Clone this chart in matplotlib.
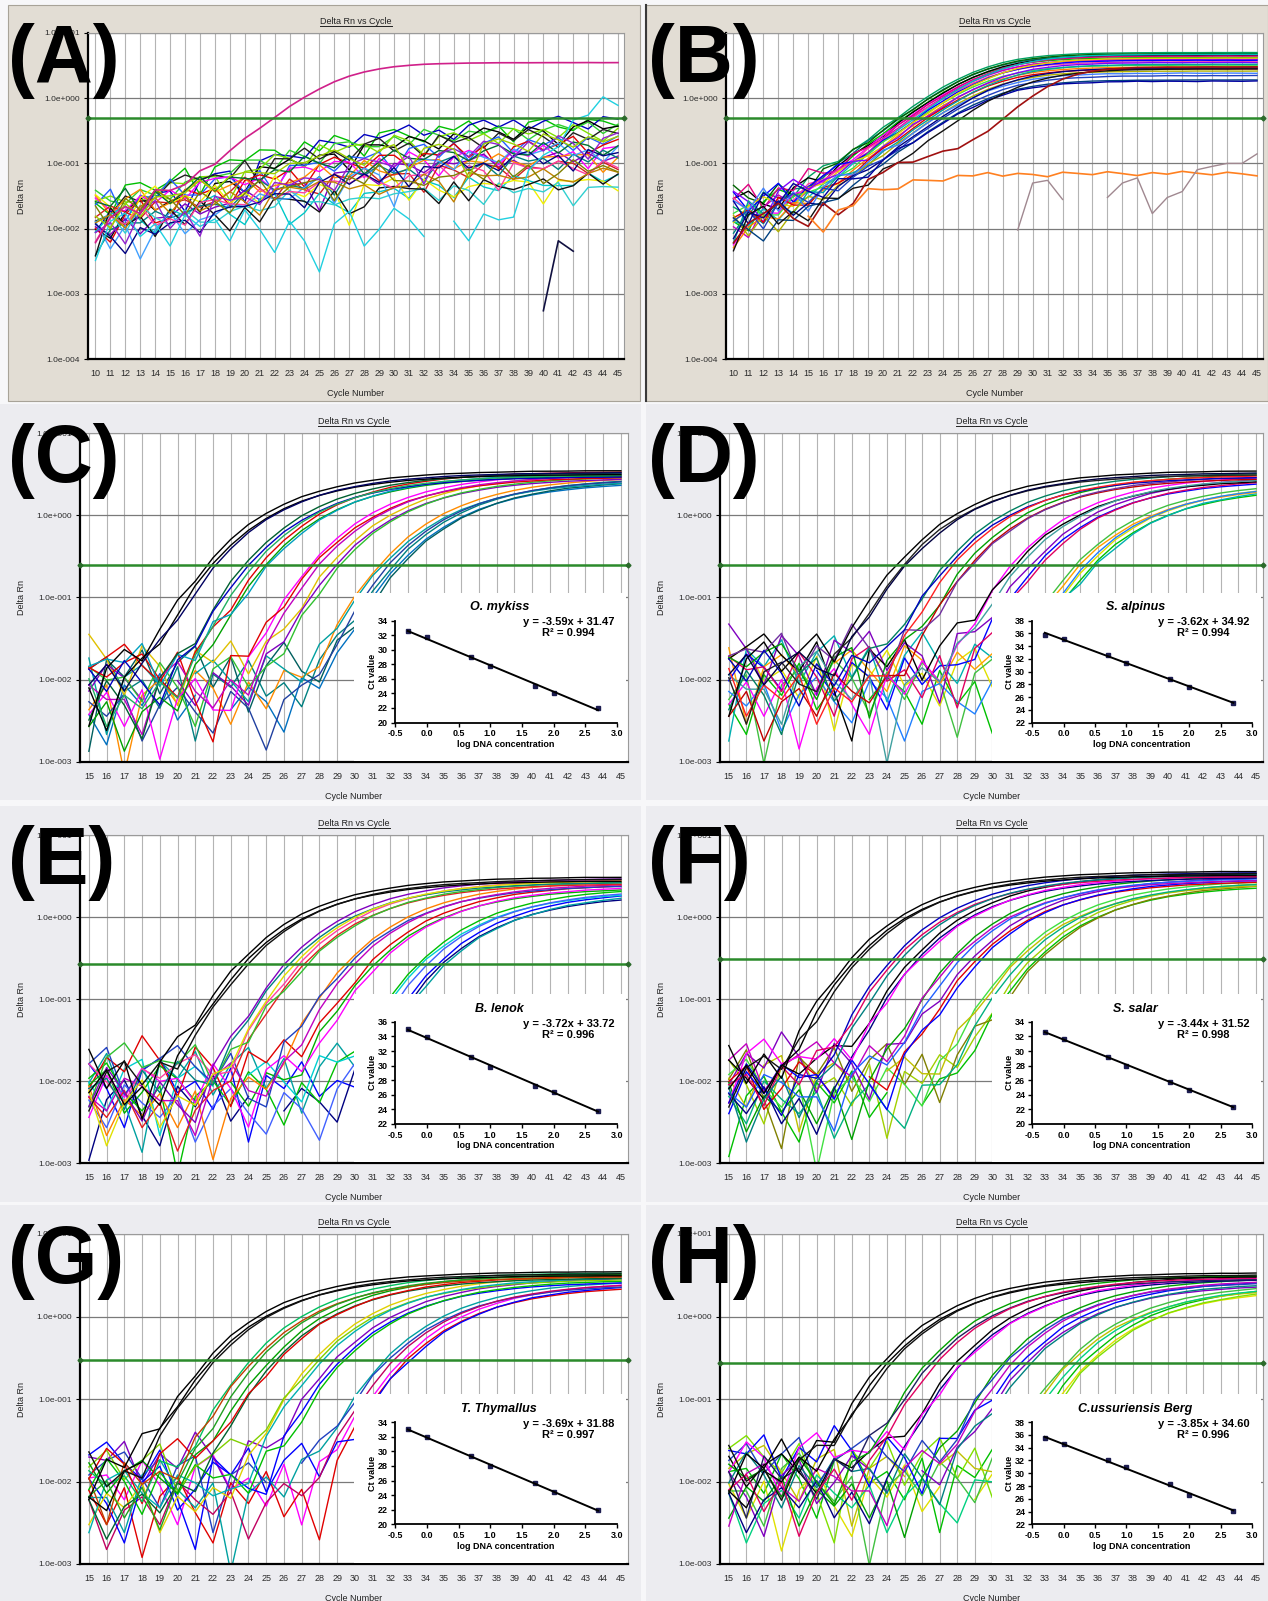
import numpy as np
import matplotlib.pyplot as plt
from matplotlib.patches import Rectangle
from matplotlib.lines import Line2D
from matplotlib.ticker import NullLocator

plt.rcParams['font.family'] = ['Liberation Sans', 'DejaVu Sans']

W, H = 1268, 1601

# ---------------- data ----------------
CYCLES_AB = np.arange(10, 46)
CYCLES_CH = np.arange(15, 46)

# baseline jitter, in units of a well's baseline level, one value per cycle 10..45
NOISE = [
    [1.2, 0.6, 1.8, 0.9, 0.3, 1.5,  2.1, 0.8, 1.1, 0.5, 1.6, 0.2,
     1.3, 0.9, 1.9, 0.7, 1.0, 0.4,  1.4, 2.0, 0.6, 1.1, 0.3, 1.7,
     0.9, 1.2, 0.5, 1.5, 0.8, 1.9,  1.0, 0.4, 1.3, 0.7, 1.6, 1.1],
    [0.5, 1.4, 0.2, 1.1, 1.9, 0.7,  0.3, 1.6, 0.9, 2.2, 0.6, 1.2,
     -0.3, 0.8, 1.5, 1.0, 0.4, 1.8,  0.7, 1.3, 0.2, 1.1, 1.7, 0.6,
     1.4, 0.3, 1.0, 1.9, 0.5, 1.2,  0.8, 1.6, 0.4, 1.1, 0.7, 1.3],
    [2.0, 1.1, 0.7, 1.6, 0.4, 0.1,  1.3, 0.8, 1.7, 0.5, 1.2, 1.9,
     0.6, 1.4, 0.3, 1.1, 2.1, 0.9,  0.5, 1.5, 1.0, 0.4, 1.2, 0.8,
     1.8, 0.6, 1.3, 0.2, 1.0, 1.6,  0.7, 1.2, 1.9, 0.5, 1.0, 1.4],
    [0.8, 0.3, 1.5, 2.3, 1.0, 0.6,  1.2, 0.1, 0.9, 1.4, 0.7, 1.8,
     1.1, 0.4, 1.3, 0.6, 1.7, 1.0,  0.2, 1.2, 1.6, 0.8, 0.5, 1.4,
     1.0, 1.9, 0.7, 1.1, 0.3, 1.3,  1.7, 0.9, 0.6, 1.5, 1.2, 0.8],
    [1.5, 1.9, 0.9, 0.4, 1.3, 1.7,  0.2, 1.0, 1.4, 0.8, -0.2, 1.1,
     1.6, 0.9, 0.5, 1.8, 1.2, 0.6,  1.5, 0.9, 1.3, 1.9, 0.7, 1.0,
     0.4, 1.2, 1.6, 0.8, 1.4, 0.6,  1.1, 1.5, 0.9, 0.5, 1.3, 1.0],
    [0.3, 0.9, 1.3, 0.6, 2.0, 1.2,  0.8, 1.5, 0.4, 1.1, 1.8, 0.9,
     0.5, 1.6, 1.0, 0.3, 1.2, 1.5,  0.9, 0.6, 1.4, 0.7, 1.9, 1.1,
     0.5, 1.3, 0.9, 1.6, 1.2, 0.4,  1.0, 1.4, 0.8, 1.7, 0.6, 1.2],
    [1.0, 1.7, 0.5, 1.2, 0.8, 2.2,  1.1, 0.4, 1.6, 0.9, 0.3, 1.4,
     1.0, 1.8, 0.6, 1.3, 0.9, 0.2,  1.5, 1.1, 0.7, 1.6, 1.0, 0.4,
     1.3, 0.8, 1.7, 1.1, 0.6, 1.4,  0.9, 0.3, 1.2, 1.8, 0.9, 1.1],
    [0.6, 0.2, 1.1, 1.7, 0.5, 0.9,  1.9, 1.3, 0.7, -0.1, 1.2, 0.6,
     1.5, 1.0, 0.4, 1.7, 0.8, 1.3,  1.1, 0.5, 1.8, 0.9, 0.3, 1.2,
     1.6, 0.7, 1.1, 0.5, 1.5, 1.0,  1.3, 0.6, 1.8, 0.9, 0.4, 1.2],
]
BASE_SCALE = [1.0, 0.6, 1.5, 0.8, 1.2, 0.5, 1.8, 0.9]

# (A) one positive well, the rest drift without amplifying
A_THRESHOLD = 0.5
A_POS_CT = 22.0
A_POS_PLATEAU = 3.5
A_POS_COLOR = '#d0208a'
A_WEAK_P = [0.45, 0.55, 0.40, 0.42, 0.35, 0.30, 0.25, 0.22, 0.15, 0.14, 0.12, 0.09, 0.05,
            0.13, 0.03, 0.035, 0.05, 0.20, 0.18, 0.10, 0.06, 0.16, 0.08, 1.6, 0.28, 0.25]
A_WEAK_C0 = [24, 27, 26, 28, 25, 23, 27, 26, 22, 26, 24, 22, 28,
             25, 20, 22, 28, 30, 24, 26, 23, 29, 27, 43, 31, 24]
A_WEAK_K = [10, 10, 10, 10, 10, 10, 10, 10, 10, 10, 10, 10, 10,
            10, 10, 10, 10, 10, 10, 10, 10, 10, 10, 3, 10, 10]
A_WEAK_COLORS = ['#00c000', '#0000c0', '#30d030', '#000000', '#80e000', '#202020', '#2060ff',
                 '#e00000', '#ff00ff', '#8000c0', '#ff8c00', '#d02020', '#00c8c8', '#008080',
                 '#f0f000', '#30d0d0', '#101010', '#40a0ff', '#007030', '#ff40a0', '#c08000',
                 '#000080', '#808000', '#20d0e0', '#9020d0', '#a0d000']
A_FRAG_CYCLES = [40, 41, 42]
A_FRAG_VALUES = [0.00055, 0.0065, 0.0045]

# (B)
B_THRESHOLD = 0.5
B_CT = [21.0, 21.2, 21.3, 21.5, 21.6, 21.7, 21.9, 22.0, 22.1, 22.2, 22.4, 22.5,
        22.6, 22.8, 23.0, 23.1, 23.3, 23.5, 23.7, 23.9, 24.2, 24.5, 24.8, 25.3]
B_PLATEAU = [5.0, 4.6, 4.8, 4.2, 4.5, 3.9, 4.4, 4.0, 3.6, 4.7, 3.8, 3.2,
             4.1, 3.0, 3.5, 2.8, 3.3, 2.6, 2.4, 2.9, 2.2, 1.9, 1.8, 2.8]
B_COLORS = ['#00a060', '#008080', '#006400', '#00c000', '#000000', '#ff00ff', '#e0007f', '#c000c0',
            '#ff40a0', '#00c0c0', '#0000ff', '#40e040', '#e8d000', '#ff8000', '#8000ff', '#e00000',
            '#00a0a0', '#b0b000', '#4080ff', '#000080', '#2040c0', '#004080', '#0000a0', '#101010']
B_LATE_CT = 28.6
B_LATE_PLATEAU = 2.9
B_LATE_BUMP = 0.1
B_FLAT_P = 0.062
B_FLAT_C0 = 19.0
B_FLAT_START = 15
B_FRAG_CYCLES = list(range(29, 46))
B_FRAG_VALUES = [0.0095, 0.05, 0.055, 0.028, np.nan, np.nan, 0.03, 0.05, 0.06, 0.017,
                 0.03, 0.037, 0.08, 0.09, 0.1, 0.1, 0.14]

# standard curves (C)-(H): log DNA concentration vs Ct
LOG_CONC = [-0.3, 0.0, 0.7, 1.0, 1.7, 2.0, 2.7]
REP_SHIFT = [-0.25, 0.0, 0.25]
REP_PLATEAU = [1.06, 0.95, 1.0]

C_CT = [32.5, 31.7, 29.0, 27.8, 25.0, 24.1, 22.0]
D_CT = [35.8, 35.1, 32.6, 31.4, 28.8, 27.6, 25.0]
E_CT = [35.0, 33.9, 31.2, 29.8, 27.2, 26.4, 23.8]
F_CT = [32.6, 31.6, 29.2, 28.0, 25.8, 24.6, 22.3]
G_CT = [33.0, 32.0, 29.3, 28.0, 25.6, 24.4, 22.0]
H_CT = [35.5, 34.5, 32.0, 30.9, 28.3, 26.6, 24.1]

C_PLATEAU = [2.7, 2.8, 3.0, 3.1, 3.2, 3.1, 3.3]
D_PLATEAU = [2.3, 2.4, 2.8, 2.9, 3.0, 3.1, 3.3]
E_PLATEAU = [2.0, 2.2, 2.4, 2.6, 2.7, 2.8, 2.9]
F_PLATEAU = [2.6, 2.7, 2.9, 3.0, 3.2, 3.3, 3.4]
G_PLATEAU = [2.5, 2.6, 2.8, 3.0, 3.1, 3.2, 3.3]
H_PLATEAU = [2.3, 2.4, 2.6, 2.8, 3.0, 3.0, 3.2]

C_THRESHOLD, D_THRESHOLD, E_THRESHOLD = 0.25, 0.25, 0.27
F_THRESHOLD, G_THRESHOLD, H_THRESHOLD = 0.31, 0.30, 0.27

C_COLORS = ['#008080', '#0070c0', '#005f5f', '#ff8c00', '#00a0a0', '#2040a0',
            '#e0c000', '#8000c0', '#30c030', '#ff00ff', '#e00000', '#c000c0',
            '#e00000', '#00a000', '#00a0c0', '#006030', '#0000c0', '#20b060',
            '#000000', '#000000', '#000060']
D_COLORS = ['#e0e000', '#00c000', '#00b0b0', '#40c040', '#ffa000', '#2080ff',
            '#8000c0', '#0000ff', '#e00060', '#ff00ff', '#000000', '#40a0a0',
            '#00a000', '#c00000', '#7030a0', '#008060', '#0000c0', '#ff2020',
            '#000000', '#202020', '#000040']
E_COLORS = ['#0000ff', '#000080', '#00a0a0', '#00c000', '#00d0d0', '#4060ff',
            '#e00000', '#00b000', '#ff00ff', '#ff8000', '#2040c0', '#c000c0',
            '#ff40a0', '#e02020', '#30c030', '#8000c0', '#008080', '#e0e000',
            '#000000', '#000000', '#101010']
F_COLORS = ['#a0d000', '#00c000', '#808000', '#40e040', '#c0c000', '#00b080',
            '#8000c0', '#e00000', '#0000ff', '#00a000', '#c000c0', '#2060ff',
            '#000000', '#000080', '#ff00ff', '#0000c0', '#e00060', '#008080',
            '#000000', '#000000', '#101010']
G_COLORS = ['#ff00ff', '#e00000', '#0000ff', '#00a0a0', '#2040c0', '#c00060',
            '#8000c0', '#0000ff', '#00c000', '#e0d000', '#80d000', '#00b0b0',
            '#00a000', '#006030', '#e00000', '#00c060', '#c04000', '#20a020',
            '#000000', '#000000', '#101010']
H_COLORS = ['#00c000', '#e0e000', '#80e000', '#40c040', '#c0c000', '#00d080',
            '#0000ff', '#8000c0', '#008080', '#00a000', '#2040c0', '#c000c0',
            '#000000', '#000080', '#ff00ff', '#00a000', '#202060', '#e00060',
            '#000000', '#000000', '#101010']

C_NAME, C_EQ, C_R2 = 'O. mykiss', 'y = -3.59x + 31.47', 'R² = 0.994'
D_NAME, D_EQ, D_R2 = 'S. alpinus', 'y = -3.62x + 34.92', 'R² = 0.994'
E_NAME, E_EQ, E_R2 = 'B. lenok', 'y = -3.72x + 33.72', 'R² = 0.996'
F_NAME, F_EQ, F_R2 = 'S. salar', 'y = -3.44x + 31.52', 'R² = 0.998'
G_NAME, G_EQ, G_R2 = 'T. Thymallus', 'y = -3.69x + 31.88', 'R² = 0.997'
H_NAME, H_EQ, H_R2 = 'C.ussuriensis Berg', 'y = -3.85x + 34.60', 'R² = 0.996'

C_YLIM, D_YLIM, E_YLIM = (20, 34), (22, 38), (22, 36)
F_YLIM, G_YLIM, H_YLIM = (20, 34), (20, 34), (22, 38)


# ---------------- helpers ----------------
def richards(c, P, c0, k, nu):
    return P * (1 + nu * np.exp(-(c - c0) / k)) ** (-1.0 / nu)


def c0_from_ct(ct, P, thr, k, nu):
    return ct + k * np.log(((P / thr) ** nu - 1) / nu)


def noise(row, shift, cycles):
    return np.roll(np.asarray(NOISE[row % 8], float), shift)[cycles - 10]


def px(x0, y0, x1, y1):
    return [x0 / W, 1 - y1 / H, (x1 - x0) / W, (y1 - y0) / H]


fig = plt.figure(figsize=(W / 100, H / 100), dpi=100, facecolor='#f7f7f9')
renderer = fig.canvas.get_renderer()


def panel(letter, bg, plot, col_x, bg_color, xmin, ylow, thr, edge='none'):
    x0, y0, x1, y1 = bg
    fig.add_artist(Rectangle((x0 / W, 1 - y1 / H), (x1 - x0) / W, (y1 - y0) / H,
                             transform=fig.transFigure, facecolor=bg_color,
                             edgecolor=edge, lw=0.8, zorder=-1))
    ax = fig.add_axes(px(*plot))
    ax.set_yscale('log', nonpositive='mask')
    ax.set_xlim(xmin - 0.5, 45.4)
    ax.set_ylim(10.0 ** ylow, 10.0)
    ax.set_xticks(np.arange(xmin, 46))
    ax.tick_params(axis='x', length=0, pad=7, labelsize=6.5, labelcolor='#2a2a2a')
    exps = np.arange(ylow, 2)
    ax.set_yticks(10.0 ** exps)
    ax.set_yticklabels([f'1.0e{e:+04d}' for e in exps])
    ax.yaxis.set_minor_locator(NullLocator())
    ax.tick_params(axis='y', length=3, pad=3, labelsize=6, labelcolor='#2a2a2a')
    ax.grid(axis='x', color='#b4b4b4', lw=0.8)
    ax.grid(axis='y', color='#7a7a7a', lw=0.9)
    ax.set_axisbelow(True)
    for s in ('left', 'bottom'):
        ax.spines[s].set_linewidth(1.6)
        ax.spines[s].set_color('black')
    for s in ('top', 'right'):
        ax.spines[s].set_linewidth(0.8)
        ax.spines[s].set_color('#9a9a9a')
    ax.axhline(thr, color='#2b8a2b', lw=1.8, zorder=3)
    ax.plot([xmin - 0.5, 45.4], [thr, thr], ls='none', marker='D', ms=2.5,
            color='#2b6a2b', clip_on=False, zorder=3)

    px0, py0, px1, py1 = plot
    cx = (px0 + px1) / 2
    t = fig.text(cx / W, 1 - (py0 - 12) / H, 'Delta Rn vs Cycle', fontsize=6.5,
                 ha='center', va='center', color='#222222')
    bb = t.get_window_extent(renderer)
    fig.add_artist(Line2D([bb.x0 / W, bb.x1 / W], [(bb.y0 - 0.5) / H] * 2,
                          transform=fig.transFigure, color='#222222', lw=0.7))
    fig.text(cx / W, 1 - (py1 + 34) / H, 'Cycle Number', fontsize=6.5,
             ha='center', va='center', color='#222222')
    fig.text((col_x + 22) / W, 1 - (py0 + py1) / 2 / H, 'Delta Rn', fontsize=6.5,
             rotation=90, ha='center', va='center', color='#222222')
    fig.text((col_x + 8) / W, 1 - (py0 - 10) / H, f'({letter})', fontsize=58,
             fontweight='bold', ha='left', va='top', color='black')
    return ax


# ---------------- (A) ----------------
axA = panel('A', (8, 5, 640, 401), (88, 33, 624, 359), 0, '#e2ddd4', 10, -4, A_THRESHOLD,
            edge='#a8a398')
cyc = CYCLES_AB.astype(float)
for j, (P, c0, k, col) in enumerate(zip(A_WEAK_P, A_WEAK_C0, A_WEAK_K, A_WEAK_COLORS)):
    amp = richards(cyc, P, c0, k, 0.05)
    wob = np.clip(noise(j + 3, j // 8 * 5, CYCLES_AB), 0.05, None) ** 0.45
    y = amp * wob + 0.012 * BASE_SCALE[j % 8] * noise(j, j // 8 * 7, CYCLES_AB)
    axA.plot(cyc, y, color=col, lw=1.0)
amp = richards(cyc, A_POS_PLATEAU, c0_from_ct(A_POS_CT, A_POS_PLATEAU, A_THRESHOLD, 2.2, 1.0), 2.2, 1.0)
axA.plot(cyc, amp + 0.012 * noise(5, 0, CYCLES_AB), color=A_POS_COLOR, lw=1.2)
axA.plot(A_FRAG_CYCLES, A_FRAG_VALUES, color='#101040', lw=1.2)

# ---------------- (B) ----------------
axB = panel('B', (646, 5, 1268, 401), (726, 33, 1263, 359), 640, '#e2ddd4', 10, -4, B_THRESHOLD,
            edge='#a8a398')
fig.add_artist(Line2D([646 / W, 646 / W], [1 - 401 / H, 1 - 5 / H], transform=fig.transFigure,
                      color='#3a3a3a', lw=1.5))
for j, (ct, P, col) in enumerate(zip(B_CT, B_PLATEAU, B_COLORS)):
    amp = richards(cyc, P, c0_from_ct(ct, P, B_THRESHOLD, 2.3, 1.0), 2.3, 1.0)
    y = amp + 0.014 * BASE_SCALE[j % 8] * noise(j, j // 8 * 7, CYCLES_AB)
    axB.plot(cyc, y, color=col, lw=1.0)
late = richards(cyc, B_LATE_PLATEAU, c0_from_ct(B_LATE_CT, B_LATE_PLATEAU, B_THRESHOLD, 1.6, 1.0), 1.6, 1.0)
bump = richards(cyc, B_LATE_BUMP, 19.5, 1.2, 1.0)
axB.plot(cyc, late + bump + 0.012 * noise(2, 3, CYCLES_AB), color='#a01010', lw=1.2)
flat = richards(cyc, B_FLAT_P, B_FLAT_C0, 3.0, 0.05) + 0.008 * noise(6, 4, CYCLES_AB)
flat[cyc < B_FLAT_START] = np.nan
axB.plot(cyc, flat, color='#ff8020', lw=1.2)
axB.plot(B_FRAG_CYCLES, B_FRAG_VALUES, color='#a08890', lw=1.0)

# ---------------- (C)-(H) ----------------
specs = [
    ('C', 0, 0, C_CT, C_PLATEAU, C_THRESHOLD, C_COLORS, C_NAME, C_EQ, C_R2, C_YLIM, 0.009),
    ('D', 1, 0, D_CT, D_PLATEAU, D_THRESHOLD, D_COLORS, D_NAME, D_EQ, D_R2, D_YLIM, 0.012),
    ('E', 0, 1, E_CT, E_PLATEAU, E_THRESHOLD, E_COLORS, E_NAME, E_EQ, E_R2, E_YLIM, 0.009),
    ('F', 1, 1, F_CT, F_PLATEAU, F_THRESHOLD, F_COLORS, F_NAME, F_EQ, F_R2, F_YLIM, 0.010),
    ('G', 0, 2, G_CT, G_PLATEAU, G_THRESHOLD, G_COLORS, G_NAME, G_EQ, G_R2, G_YLIM, 0.010),
    ('H', 1, 2, H_CT, H_PLATEAU, H_THRESHOLD, H_COLORS, H_NAME, H_EQ, H_R2, H_YLIM, 0.012),
]
bg_rows = [(404, 800), (806, 1202), (1205, 1601)]
plot_rows = [(433, 762), (835, 1163), (1234, 1564)]
bg_cols = [(0, 641), (646, 1268)]
plot_cols = [(80, 628), (720, 1263)]
col_x = [0, 640]

cyc = CYCLES_CH.astype(float)
for letter, ci, ri, cts, plats, thr, cols, name, eq, r2, ylim, b0 in specs:
    bx = bg_cols[ci] + bg_rows[ri]
    ax = panel(letter, (bx[0], bx[2], bx[1], bx[3]),
               (plot_cols[ci][0], plot_rows[ri][0], plot_cols[ci][1], plot_rows[ri][1]),
               col_x[ci], '#ececf0', 15, -3, thr)
    for i, (ct_i, p_i) in enumerate(zip(cts, plats)):
        for r in range(3):
            j = 3 * i + r
            ct = ct_i + REP_SHIFT[r]
            P = p_i * REP_PLATEAU[r]
            amp = richards(cyc, P, c0_from_ct(ct, P, thr, 4.0, 0.05), 4.0, 0.05)
            y = amp + b0 * BASE_SCALE[j % 8] * noise(j, j // 8 * 7 + ri * 3, CYCLES_CH)
            ax.plot(cyc, y, color=cols[j], lw=1.0)

    box = ax.inset_axes([0.5, 0.004, 0.497, 0.51])
    box.set_facecolor('white')
    box.set_xticks([])
    box.set_yticks([])
    for s in box.spines.values():
        s.set_visible(False)
    box.set_zorder(4.5)

    sc = ax.inset_axes([0.575, 0.12, 0.405, 0.31])
    sc.set_zorder(5)
    sc.plot(LOG_CONC, cts, ls='none', marker='s', ms=3, color='#1c1c50')
    coef = np.polyfit(LOG_CONC, cts, 1)
    xs = np.array([min(LOG_CONC), max(LOG_CONC)])
    sc.plot(xs, np.polyval(coef, xs), color='black', lw=1.4)
    sc.set_xlim(-0.5, 3.0)
    sc.set_ylim(*ylim)
    sc.set_xticks(np.arange(-0.5, 3.01, 0.5))
    sc.set_xticklabels([f'{v:.1f}' for v in np.arange(-0.5, 3.01, 0.5)])
    sc.set_yticks(np.arange(ylim[0], ylim[1] + 1, 2))
    sc.tick_params(direction='out', length=3, width=1, labelsize=6.5, pad=2)
    for lab in sc.get_xticklabels() + sc.get_yticklabels():
        lab.set_fontweight('bold')
    for s in ('top', 'right'):
        sc.spines[s].set_visible(False)
    for s in ('left', 'bottom'):
        sc.spines[s].set_linewidth(1.3)
    sc.set_facecolor('white')
    sc.set_xlabel('log DNA concentration', fontsize=6.5, fontweight='bold', labelpad=1)
    sc.set_ylabel('Ct value', fontsize=6.5, fontweight='bold', labelpad=1)
    ax.text(0.765, 0.47, name, transform=ax.transAxes, fontsize=9, fontweight='bold',
            style='italic', ha='center', va='center', zorder=6)
    ax.text(0.975, 0.44, eq + '\n' + r2, transform=ax.transAxes, fontsize=8,
            fontweight='bold', ha='right', va='top', multialignment='center',
            linespacing=1.15, zorder=6)

fig.savefig('out.png', dpi=100, facecolor=fig.get_facecolor())
